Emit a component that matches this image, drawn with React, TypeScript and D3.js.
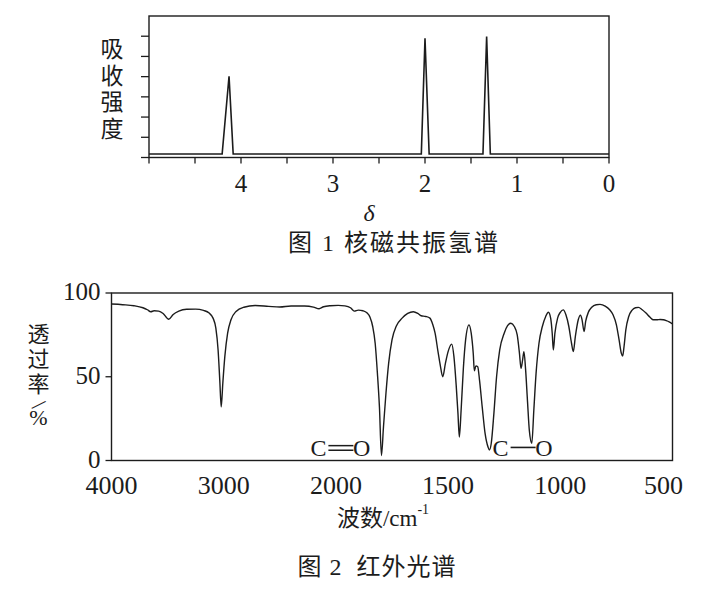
import React from 'react';
import * as d3 from 'd3';

// ---- Figure 1: 1H NMR ----
const nmrShift = [5, 4.205, 4.13, 4.085, 2.04, 2.0, 1.955, 1.37, 1.33, 1.29, 0];
const nmrIntensity = [0.17, 0.17, 4.02, 0.17, 0.17, 5.9, 0.17, 0.17, 5.98, 0.17, 0.17];
const nmrXTicks = [0, 0.5, 1, 1.5, 2, 2.5, 3, 3.5, 4, 4.5, 5];
const nmrXLabels = [4, 3, 2, 1, 0];
const nmrYTicks = [0, 1, 2, 3, 4, 5, 6];
const nmrYTitle = ['吸', '收', '强', '度'];

// ---- Figure 2: IR ----
const irWavenumber = [4000, 3900, 3800, 3720, 3680, 3650, 3620, 3580, 3540, 3490, 3450, 3400, 3330, 3250, 3180, 3130, 3095, 3070, 3050, 3035, 3022, 3008, 2990, 2965, 2935, 2890, 2820, 2720, 2600, 2500, 2400, 2280, 2200, 2150, 2110, 2050, 1990, 1960, 1935, 1918, 1900, 1880, 1862, 1848, 1836, 1825, 1815, 1806, 1797, 1788, 1777, 1765, 1750, 1730, 1705, 1680, 1655, 1635, 1620, 1600, 1581, 1568, 1558, 1545, 1535, 1524, 1512, 1500, 1484, 1474, 1464, 1456, 1450, 1442, 1432, 1422, 1407, 1397, 1388, 1383, 1376, 1368, 1360, 1348, 1335, 1322, 1316, 1308, 1296, 1284, 1270, 1250, 1235, 1220, 1205, 1192, 1182, 1175, 1168, 1162, 1155, 1146, 1138, 1127, 1118, 1108, 1095, 1080, 1065, 1053, 1043, 1036, 1031, 1024, 1012, 1000, 987, 975, 962, 950, 942, 933, 920, 910, 903, 894, 887, 875, 860, 840, 823, 800, 780, 765, 750, 738, 728, 722, 716, 708, 695, 680, 665, 652, 635, 618, 600, 585, 570, 555, 541, 528, 515, 500];
const irTransmittance = [93.4, 93.0, 92.4, 91.2, 90, 88.8, 89.4, 89.2, 87.8, 84.3, 87.2, 89.2, 90.3, 90.4, 89.6, 88, 85, 79, 66, 48, 32, 46, 62, 76, 84, 89, 91.5, 92.5, 92, 91.6, 92.2, 92.2, 91.6, 90.6, 91.8, 92.4, 92.6, 92.3, 91.2, 89.2, 89.8, 89.4, 88.2, 85.5, 80, 70, 52, 32, 3, 20, 40, 58, 72, 80.5, 85, 87.8, 88.8, 87.8, 86.4, 86, 85, 81, 76, 65, 57, 50, 58, 65, 69.5, 62, 45, 28, 14, 30, 55, 72, 81, 76, 64, 53.6, 56.5, 56, 48, 32, 16, 8, 6.3, 10, 28, 50, 66, 76, 80.5, 81.9, 80, 75, 64, 55, 60, 65, 55, 35, 18, 10.3, 30, 52, 70, 80, 86, 88.5, 85, 76, 66, 76, 85, 88.5, 89.9, 87, 80, 70, 65, 74, 84, 86.8, 84, 77, 83, 88.5, 91.5, 93, 93.2, 92.2, 90, 87, 81, 72, 64, 62.4, 68, 78, 86, 89.8, 91.2, 91.4, 90, 88, 85.5, 84, 84, 84.2, 84, 83.5, 82.8, 81.5];
const irXLabels = [4000, 3000, 2000, 1500, 1000, 500];
const irYTicks = [0, 50, 100];
const irYTitle = ['透', '过', '率'];
const irAnnotLabels = ['C', 'O'];
const irAnnotWavenumber = [1980, 1168];
const irAnnotBond = [2, 1];

const SERIF = "'Liberation Serif', 'Noto Sans CJK SC', serif";
const INK = '#1c1c1c';

export default function App() {
  // NMR scales
  const nx = d3.scaleLinear().domain([5, 0]).range([149, 609]);
  const ny = d3.scaleLinear().domain([0, 7]).range([157.5, 16]);
  const nmrPts: [number, number][] = nmrShift.map((d, i) => [d, nmrIntensity[i]]);
  const nmrLine = d3.line<[number, number]>().x(d => nx(d[0])).y(d => ny(d[1]));

  // IR scales (piecewise: 4000-2000 compressed)
  const ix = d3.scaleLinear().domain([4000, 2000, 500]).range([111.5, 335.9, 672.5]);
  const iy = d3.scaleLinear().domain([0, 100]).range([460.5, 293]);
  const irPts: [number, number][] = irWavenumber.map((d, i) => [d, irTransmittance[i]]);
  const irLine = d3.line<[number, number]>().x(d => ix(d[0])).y(d => iy(d[1])).curve(d3.curveMonotoneX);

  const [nx0, nx1] = nx.range();
  const [ny0, ny1] = ny.range();
  const ixr = ix.range();
  const iyr = iy.range();

  return (
    <svg width={706} height={589} style={{ position: 'absolute', left: 0, top: 0, background: '#fff' }} fontFamily={SERIF}>
      <rect x={0} y={0} width={706} height={589} fill="#fff" />
      {/* ===== Figure 1 ===== */}
      <g>
        <rect x={nx0} y={ny1} width={nx1 - nx0} height={ny0 - ny1} fill="none" stroke={INK} strokeWidth={1.4} />
        {nmrXTicks.map(t => (
          <line key={'nxt' + t} x1={nx(t)} x2={nx(t)} y1={ny0} y2={ny0 + 6} stroke={INK} strokeWidth={1.3} />
        ))}
        {nmrYTicks.map(t => (
          <line key={'nyt' + t} x1={nx0 - 8} x2={nx0} y1={ny(t)} y2={ny(t)} stroke={INK} strokeWidth={1.3} />
        ))}
        {nmrXLabels.map(t => (
          <text key={'nxl' + t} x={nx(t)} y={ny0 + 34} textAnchor="middle" fontSize={25} fill={INK}>{t}</text>
        ))}
        <text x={(nx0 + nx1) / 2 - 10} y={ny0 + 63} textAnchor="middle" fontSize={24} fontStyle="italic" fill={INK}>δ</text>
        {nmrYTitle.map((c, i) => (
          <text key={'nyT' + i} x={nx0 - 37} y={ny1 + 41 + i * 26.5} textAnchor="middle" fontSize={23} fill={INK}>{c}</text>
        ))}
        <path d={nmrLine(nmrPts) || ''} fill="none" stroke={INK} strokeWidth={1.6} strokeLinejoin="miter" />
        <text x={394} y={250.5} textAnchor="middle" fontSize={24} letterSpacing={2} fill={INK} style={{ whiteSpace: 'pre' }}>图 1 核磁共振氢谱</text>
      </g>

      {/* ===== Figure 2 ===== */}
      <g>
        <rect x={ixr[0]} y={iyr[1]} width={ixr[2] - ixr[0]} height={iyr[0] - iyr[1]} fill="none" stroke={INK} strokeWidth={1.4} />
        {irYTicks.map(t => (
          <g key={'iyt' + t}>
            <line x1={ixr[0] - 6} x2={ixr[0]} y1={iy(t)} y2={iy(t)} stroke={INK} strokeWidth={1.3} />
            <text x={ixr[0] - 11} y={iy(t) + 7} textAnchor="end" fontSize={25} fill={INK}>{t}</text>
          </g>
        ))}
        {irXLabels.map((t, i) => (
          <text key={'ixl' + t} x={ix(t) + (i === irXLabels.length - 1 ? -9 : 0)} y={iyr[0] + 33} textAnchor="middle" fontSize={26} fill={INK}>{t}</text>
        ))}
        <path d={irLine(irPts) || ''} fill="none" stroke={INK} strokeWidth={1.4} />
        {irYTitle.map((c, i) => (
          <text key={'iyT' + i} x={38.5} y={342 + i * 25} textAnchor="middle" fontSize={22} fill={INK}>{c}</text>
        ))}
        <text x={38.5} y={412} textAnchor="middle" fontSize={22} fill={INK} transform="rotate(45 38.5 405)">/</text>
        <text x={38.5} y={425} textAnchor="middle" fontSize={22} fill={INK}>%</text>
        {irAnnotWavenumber.map((w, i) => {
          const cx = ix(w);
          const cy = iy(7.5);
          const half = 30;
          return (
            <g key={'ann' + i}>
              <text x={cx - half} y={cy + 8.5} textAnchor="start" fontSize={24} fill={INK}>{irAnnotLabels[0]}</text>
              <text x={cx + half} y={cy + 8.5} textAnchor="end" fontSize={24} fill={INK}>{irAnnotLabels[1]}</text>
              {irAnnotBond[i] === 2 ? (
                <>
                  <line x1={cx - 12} x2={cx + 13} y1={cy - 2.3} y2={cy - 2.3} stroke={INK} strokeWidth={1.5} />
                  <line x1={cx - 12} x2={cx + 13} y1={cy + 2.3} y2={cy + 2.3} stroke={INK} strokeWidth={1.5} />
                </>
              ) : (
                <line x1={cx - 12} x2={cx + 13} y1={cy - 0.5} y2={cy - 0.5} stroke={INK} strokeWidth={1.6} />
              )}
            </g>
          );
        })}
        <text x={383} y={526} textAnchor="middle" fontSize={23} fill={INK}>
          波数/cm<tspan fontSize={14} dy={-12}>-1</tspan>
        </text>
        <text x={377} y={575} textAnchor="middle" fontSize={24} letterSpacing={1} fill={INK} style={{ whiteSpace: 'pre' }}>图 2  红外光谱</text>
      </g>
    </svg>
  );
}
